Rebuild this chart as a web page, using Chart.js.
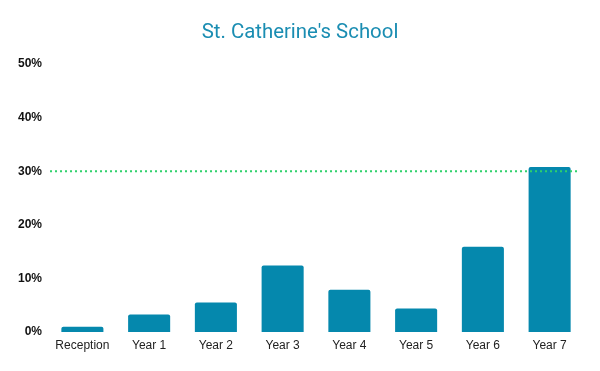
<!DOCTYPE html>
<html>
<head>
<meta charset="utf-8">
<script src="https://cdn.jsdelivr.net/npm/chart.js@4"></script>
<style>
html,body{margin:0;padding:0;background:#fff;}
#wrap{width:600px;height:371px;position:relative;}
</style>
</head>
<body>
<div id="wrap"><canvas id="c" width="600" height="371"></canvas></div>
<script>
const categories = ["Reception","Year 1","Year 2","Year 3","Year 4","Year 5","Year 6","Year 7"];
const values = [1.0, 3.3, 5.5, 12.4, 7.9, 4.4, 15.9, 30.8];
const targetValue = 30;
const yTicks = [0, 10, 20, 30, 40, 50];
const titleText = "St. Catherine's School";

const targetLine = {
  id: 'targetLine',
  afterDatasetsDraw(chart) {
    const {ctx, chartArea, scales} = chart;
    const y = scales.y.getPixelForValue(targetValue);
    ctx.save();
    ctx.strokeStyle = '#2fd16b';
    ctx.lineWidth = 2;
    ctx.setLineDash([2, 3]);
    ctx.beginPath();
    ctx.moveTo(chartArea.left + 1, y);
    ctx.lineTo(chartArea.right - 4, y);
    ctx.stroke();
    ctx.restore();
  }
};

const pageTitle = {
  id: 'pageTitle',
  afterDraw(chart) {
    const ctx = chart.ctx;
    ctx.save();
    ctx.fillStyle = '#1a8db2';
    ctx.font = 'normal 20.4px Roboto';
    ctx.textAlign = 'center';
    ctx.textBaseline = 'alphabetic';
    ctx.fillText(titleText, chart.width / 2, 37.5);
    ctx.restore();
  }
};

new Chart(document.getElementById('c'), {
  type: 'bar',
  data: {
    labels: categories,
    datasets: [{
      data: values,
      backgroundColor: '#0588ad',
      borderRadius: 2,
      borderSkipped: 'bottom',
      barPercentage: 0.63,
      categoryPercentage: 1.0
    }]
  },
  options: {
    responsive: false,
    animation: false,
    devicePixelRatio: 1,
    layout: { padding: { left: 11, right: 17, top: 64, bottom: 12.5 } },
    plugins: {
      legend: { display: false },
      tooltip: { enabled: false },
      title: { display: false }
    },
    scales: {
      x: {
        grid: { display: false, drawTicks: false },
        border: { display: false },
        ticks: {
          color: '#222',
          font: { family: 'Liberation Sans', size: 12 },
          padding: 6,
          maxRotation: 0,
          autoSkip: false
        }
      },
      y: {
        min: 0,
        max: 50,
        afterBuildTicks(scale) { scale.ticks = yTicks.map(v => ({ value: v })); },
        grid: { display: false, drawTicks: false },
        border: { display: false },
        ticks: {
          color: '#111',
          font: { family: 'Liberation Sans', size: 12, weight: 'bold' },
          padding: 7,
          callback: v => v + '%'
        }
      }
    }
  },
  plugins: [targetLine, pageTitle]
});
</script>
</body>
</html>
